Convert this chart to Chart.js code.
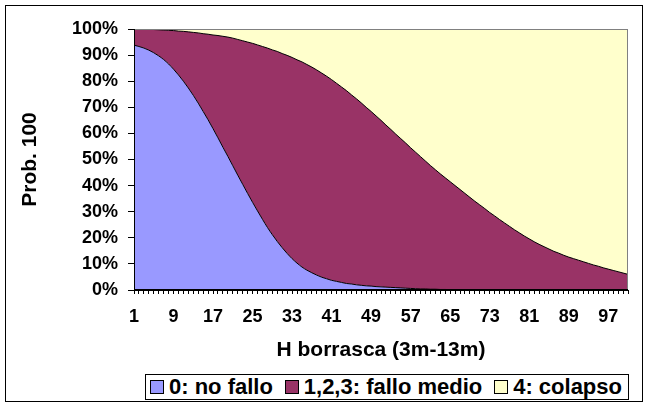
<!DOCTYPE html>
<html>
<head>
<meta charset="utf-8">
<script src="https://cdn.jsdelivr.net/npm/chart.js@4/dist/chart.umd.min.js"></script>
<style>
  html, body { margin: 0; padding: 0; background: #fff; }
  #wrap { position: relative; width: 648px; height: 403px; }
  #chart { position: absolute; left: 0; top: 0; }
  #frame { position: absolute; left: 5px; top: 5px; width: 638px; height: 397px; box-sizing: border-box; border: 1px solid #000; pointer-events: none; }
  #legend { position: absolute; left: 145px; top: 374px; width: 484px; height: 26px; box-sizing: border-box; border: 1px solid #000; background: #fff;
            display: flex; align-items: center; justify-content: space-between; padding: 0 6px 0 4px;
            font: bold 22px 'Liberation Sans', Arial, sans-serif; white-space: nowrap; }
  #legend .item { display: flex; align-items: center; }
  #legend .sw { width: 12px; height: 12px; border: 1px solid #000; margin-right: 5px; }
</style>
</head>
<body>
<div id="wrap">
  <canvas id="chart" width="648" height="403"></canvas>
  <div id="frame"></div>
  <div id="legend"></div>
</div>
<script>
// Data
const categories = [
  1,2,3,4,5,6,7,8,9,10,11,12,13,14,15,16,17,18,19,20,
  21,22,23,24,25,26,27,28,29,30,31,32,33,34,35,36,37,38,39,40,
  41,42,43,44,45,46,47,48,49,50,51,52,53,54,55,56,57,58,59,60,
  61,62,63,64,65,66,67,68,69,70,71,72,73,74,75,76,77,78,79,80,
  81,82,83,84,85,86,87,88,89,90,91,92,93,94,95,96,97,98,99,100,101
];
const xTickLabels = [1, 9, 17, 25, 33, 41, 49, 57, 65, 73, 81, 89, 97];
const yTickLabels = ['0%','10%','20%','30%','40%','50%','60%','70%','80%','90%','100%'];
const seriesNames = ['0: no fallo', '1,2,3: fallo medio', '4: colapso'];
const seriesColors = ['#9999FF', '#993366', '#FFFFCC'];

const noFallo = [
  93.8,93.3,92.7,91.9,90.9,89.7,88.3,86.6,84.6,82.4,
  80.0,77.4,74.6,71.6,68.4,65.2,61.8,58.3,54.7,51.2,
  47.6,44.0,40.5,37.0,33.6,30.3,27.1,24.0,21.2,18.6,
  16.2,14.0,12.0,10.3,8.8,7.6,6.6,5.7,4.9,4.3,
  3.7,3.3,2.9,2.5,2.3,2.0,1.8,1.6,1.5,1.3,
  1.2,1.1,1.0,0.9,0.8,0.7,0.6,0.5,0.4,0.4,
  0.3,0.3,0.2,0.2,0.1,0.1,0.1,0,0,0,
  0,0,0,0,0,0,0,0,0,0,
  0,0,0,0,0,0,0,0,0,0,
  0,0,0,0,0,0,0,0,0,0,
  0
];
const falloMedio = [
  6.2,6.7,7.2,8.0,8.9,10.0,11.3,12.9,14.8,16.8,
  19.1,21.5,24.1,26.9,29.8,32.8,35.9,39.2,42.5,45.7,
  48.9,52.0,55.0,58.0,60.9,63.6,66.2,68.7,70.8,72.8,
  74.4,75.9,77.1,77.9,78.6,78.8,78.8,78.6,78.2,77.6,
  76.9,75.9,74.9,73.9,72.5,71.3,69.9,68.4,66.9,65.4,
  63.8,62.1,60.5,58.8,57.2,55.6,53.9,52.3,50.7,49.0,
  47.4,45.8,44.3,42.8,41.4,39.9,38.4,37.0,35.5,34.0,
  32.6,31.2,29.7,28.4,27.0,25.7,24.4,23.1,21.9,20.7,
  19.6,18.5,17.5,16.6,15.7,14.8,14.1,13.3,12.6,12.0,
  11.4,10.8,10.2,9.6,9.1,8.5,8.0,7.5,7.0,6.5,
  6.0
];
const colapso = [
  0.0,0.0,0.1,0.1,0.2,0.3,0.4,0.5,0.6,0.8,
  0.9,1.1,1.3,1.5,1.8,2.0,2.3,2.5,2.8,3.1,
  3.5,4.0,4.5,5.0,5.5,6.1,6.7,7.3,8.0,8.6,
  9.4,10.1,10.9,11.8,12.6,13.6,14.6,15.7,16.9,18.1,
  19.4,20.8,22.2,23.6,25.2,26.7,28.3,30.0,31.6,33.3,
  35.0,36.8,38.5,40.3,42.0,43.7,45.5,47.2,48.9,50.6,
  52.3,53.9,55.5,57.0,58.5,60.0,61.5,63.0,64.5,66.0,
  67.4,68.8,70.3,71.6,73.0,74.3,75.6,76.9,78.1,79.3,
  80.4,81.5,82.5,83.4,84.3,85.2,85.9,86.7,87.4,88.0,
  88.6,89.2,89.8,90.4,90.9,91.5,92.0,92.5,93.0,93.5,
  94.0
];

Chart.defaults.font.family = "'Liberation Sans', Arial, sans-serif";
Chart.defaults.color = '#000';

// Plot area frame: grey top/right, black axis lines left/bottom
const plotFrame = {
  id: 'plotFrame',
  afterDraw(chart) {
    const { ctx, chartArea: a } = chart;
    const L = Math.round(a.left), R = Math.round(a.right);
    const T = Math.round(a.top), B = Math.round(a.bottom);
    ctx.save();
    ctx.fillStyle = '#808080';
    ctx.fillRect(L, T, R - L, 1);
    ctx.fillRect(R - 1, T, 1, B - T);
    ctx.fillStyle = '#000';
    ctx.fillRect(L, T, 1, B - T);
    ctx.fillRect(L, B - 1, R - L, 1);
    ctx.restore();
  }
};

const values = [noFallo, falloMedio, colapso];
const datasets = values.map((data, i) => ({
  label: seriesNames[i],
  data: data,
  backgroundColor: seriesColors[i],
  borderColor: i < 2 ? '#000' : seriesColors[i],
  borderWidth: 1,
  fill: i === 0 ? 'origin' : '-1',
  pointRadius: 0,
  cubicInterpolationMode: 'monotone'
}));

new Chart(document.getElementById('chart'), {
  type: 'line',
  data: { labels: categories, datasets: datasets },
  options: {
    responsive: false,
    animation: false,
    layout: { padding: { left: 18, right: 20, top: 29, bottom: 40 } },
    plugins: { legend: { display: false }, tooltip: { enabled: false } },
    scales: {
      x: {
        offset: false,
        grid: { display: true, drawOnChartArea: false, drawTicks: true, tickLength: 4, color: '#000', tickColor: '#000' },
        border: { display: true, color: '#000' },
        ticks: {
          autoSkip: false, maxRotation: 0, padding: 12,
          font: { size: 18, weight: 'bold' },
          callback: function (value, index) {
            const c = categories[index];
            return xTickLabels.includes(c) ? String(c) : '';
          }
        },
        title: { display: true, text: 'H borrasca (3m-13m)', font: { size: 21, weight: 'bold' }, padding: 0 },
        afterFit: function (scale) { scale.height = 73; }
      },
      y: {
        stacked: true,
        min: 0, max: 100,
        grid: { display: true, drawOnChartArea: false, drawTicks: true, tickLength: 6, color: '#000', tickColor: '#000' },
        border: { display: true, color: '#000' },
        ticks: {
          stepSize: 10, padding: 10,
          font: { size: 18, weight: 'bold' },
          callback: function (value, index) { return yTickLabels[index]; }
        },
        title: { display: true, text: 'Prob. 100', font: { size: 21, weight: 'bold' }, padding: 0 },
        afterFit: function (scale) { scale.width = 116; }
      }
    }
  },
  plugins: [plotFrame]
});

// Legend
const legend = document.getElementById('legend');
seriesNames.forEach((name, i) => {
  const item = document.createElement('span');
  item.className = 'item';
  item.innerHTML = `<span class="sw" style="background:${seriesColors[i]}"></span><span>${name}</span>`;
  legend.appendChild(item);
});
</script>
</body>
</html>
